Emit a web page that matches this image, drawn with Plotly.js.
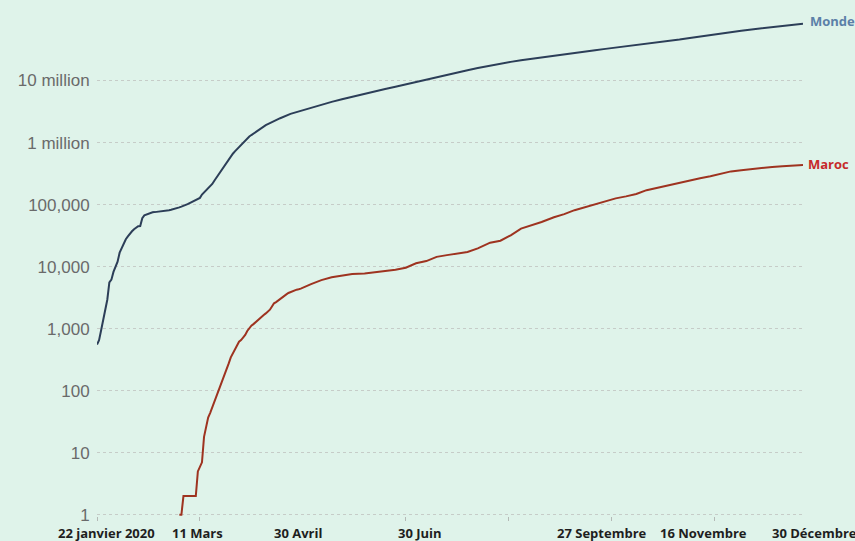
<!DOCTYPE html>
<html>
<head>
<meta charset="utf-8">
<script src="https://cdn.plot.ly/plotly-3.0.1.min.js"></script>
<style>
html,body{margin:0;padding:0;background:#dff3ea;}
#chart{width:855px;height:541px;}
</style>
</head>
<body>
<div id="chart"></div>
<script>
// Monde (cumulative cases)
const mondeDates = [
 "2020-01-22","2020-01-23","2020-01-24","2020-01-25","2020-01-26","2020-01-27","2020-01-28","2020-01-29","2020-01-30","2020-01-31",
 "2020-02-01","2020-02-02","2020-02-03","2020-02-04","2020-02-05","2020-02-06","2020-02-07","2020-02-08","2020-02-09","2020-02-10",
 "2020-02-11","2020-02-12","2020-02-13","2020-02-14","2020-02-15","2020-02-16","2020-02-17","2020-02-18","2020-02-19","2020-02-20",
 "2020-02-21","2020-02-22","2020-02-23","2020-02-24","2020-02-25","2020-02-26","2020-02-27","2020-02-28","2020-02-29","2020-03-01",
 "2020-03-02","2020-03-03","2020-03-04","2020-03-05","2020-03-06","2020-03-07","2020-03-08","2020-03-09","2020-03-10","2020-03-11",
 "2020-03-12","2020-03-13","2020-03-14","2020-03-15","2020-03-16","2020-03-17","2020-03-18","2020-03-19","2020-03-20","2020-03-21",
 "2020-03-22","2020-03-23","2020-03-24","2020-03-25","2020-03-26","2020-03-27","2020-03-28","2020-03-29","2020-03-30","2020-03-31",
 "2020-04-01","2020-04-02","2020-04-03","2020-04-04","2020-04-05","2020-04-06","2020-04-07","2020-04-08","2020-04-09","2020-04-10",
 "2020-04-11","2020-04-12","2020-04-13","2020-04-14","2020-04-15","2020-04-20","2020-04-25","2020-04-30","2020-05-05","2020-05-10",
 "2020-05-15","2020-05-20","2020-05-25","2020-05-31","2020-06-05","2020-06-10","2020-06-15","2020-06-20","2020-06-25","2020-06-30",
 "2020-07-05","2020-07-10","2020-07-15","2020-07-20","2020-07-25","2020-07-31","2020-08-05","2020-08-10","2020-08-15","2020-08-20",
 "2020-08-25","2020-08-31","2020-09-05","2020-09-10","2020-09-15","2020-09-20","2020-09-25","2020-09-30","2020-10-05","2020-10-10",
 "2020-10-15","2020-10-20","2020-10-25","2020-10-31","2020-11-05","2020-11-10","2020-11-15","2020-11-20","2020-11-25","2020-11-30",
 "2020-12-05","2020-12-10","2020-12-15","2020-12-20","2020-12-25","2020-12-30"
];
const mondeValues = [
 555,654,941,1434,2118,2927,5578,6166,8234,9927,
 12038,16787,19887,23898,27643,30802,34395,37129,40160,42769,
 44811,45229,60381,66909,69052,71235,73270,75152,75652,76212,
 76841,78602,78982,79546,80399,81376,82738,84124,86013,88371,
 90309,92844,95124,97886,101800,105836,109835,113582,118582,125865,
 128343,145193,156097,167449,181546,197168,214915,242713,272167,304528,
 336953,378235,418045,467653,529591,593291,660706,720117,782365,857487,
 932605,1013466,1095917,1176060,1249754,1321481,1396476,1479804,1565278,1657526,
 1735650,1834721,1904838,1976191,2056054,2470000,2900000,3260000,3660000,4100000,
 4530000,4990000,5490000,6170000,6700000,7290000,7960000,8710000,9540000,10450000,
 11410000,12500000,13600000,14700000,15900000,17500000,18700000,20000000,21300000,22500000,
 23800000,25300000,26700000,28000000,29500000,30900000,32400000,33900000,35400000,37100000,
 38900000,40800000,42900000,45800000,48500000,51400000,54400000,57600000,60500000,63300000,
 66500000,69800000,73000000,76700000,79600000,82600000
];

// Maroc (cumulative cases)
const marocDates = [
 "2020-03-02","2020-03-03","2020-03-04","2020-03-05","2020-03-06","2020-03-07","2020-03-08","2020-03-09","2020-03-10","2020-03-11",
 "2020-03-12","2020-03-13","2020-03-14","2020-03-15","2020-03-16","2020-03-17","2020-03-18","2020-03-19","2020-03-20","2020-03-21",
 "2020-03-22","2020-03-23","2020-03-24","2020-03-25","2020-03-26","2020-03-27","2020-03-28","2020-03-29","2020-03-30","2020-03-31",
 "2020-04-01","2020-04-02","2020-04-03","2020-04-04","2020-04-05","2020-04-06","2020-04-07","2020-04-08","2020-04-09","2020-04-10",
 "2020-04-11","2020-04-12","2020-04-13","2020-04-14","2020-04-15","2020-04-16","2020-04-17","2020-04-18","2020-04-19","2020-04-20",
 "2020-04-21","2020-04-22","2020-04-23","2020-04-24","2020-04-25","2020-04-26","2020-04-27","2020-04-28","2020-04-29","2020-04-30",
 "2020-05-05","2020-05-10","2020-05-15","2020-05-20","2020-05-25","2020-05-31","2020-06-05","2020-06-10","2020-06-15","2020-06-20",
 "2020-06-22","2020-06-25","2020-06-30","2020-07-05","2020-07-10","2020-07-15","2020-07-20","2020-07-25","2020-07-31","2020-08-05",
 "2020-08-10","2020-08-15","2020-08-20","2020-08-25","2020-08-31","2020-09-05","2020-09-10","2020-09-15","2020-09-20","2020-09-25",
 "2020-09-30","2020-10-05","2020-10-10","2020-10-15","2020-10-20","2020-10-25","2020-10-31","2020-11-05","2020-11-10","2020-11-15",
 "2020-11-20","2020-11-25","2020-11-30","2020-12-05","2020-12-10","2020-12-15","2020-12-20","2020-12-25","2020-12-30"
];
const marocValues = [
 1,1,2,2,2,2,2,2,2,5,
 6,7,18,28,37,44,54,63,79,96,
 115,143,170,225,275,345,402,479,556,617,
 654,708,791,919,1021,1120,1184,1275,1374,1448,
 1545,1661,1763,1888,2024,2283,2564,2685,2855,3046,
 3209,3446,3568,3758,3897,4065,4120,4252,4321,4423,
 5219,6063,6741,7133,7577,7780,8071,8537,8885,9613,
 10172,11338,12290,14379,15328,16262,17236,19645,24322,26196,
 32007,41017,46313,52349,62590,70160,81339,90324,100693,112522,
 126044,135619,148410,171000,187000,203000,226000,245000,266000,286000,
 315000,343000,359000,376000,391000,405000,416000,427000,436000
];

// Axis labels
const yTickVals = [1, 10, 100, 1000, 10000, 100000, 1000000, 10000000];
const yTickText = ["1", "10", "100", "1,000", "10,000", "100,000", "1 million", "10 million"];
const xTickVals = ["2020-01-22", "2020-03-11", "2020-04-30", "2020-06-30", "2020-09-27", "2020-11-16", "2020-12-30"];
const xTickText = ["22 janvier 2020", "11 Mars", "30 Avril", "30 Juin", "27 Septembre", "16 Novembre", "30 Décembre"];
const seriesNames = ["Monde", "Maroc"];

// label nudges (px) to match the original placement
const xLabelShift = [9, 0, -3, -6, -8, -9, 11];

const traces = [
  {x: mondeDates, y: mondeValues, name: seriesNames[0], type: "scatter", mode: "lines",
   line: {color: "#2c3e58", width: 2}, hoverinfo: "x+y"},
  {x: marocDates, y: marocValues, name: seriesNames[1], type: "scatter", mode: "lines",
   line: {color: "#9e3320", width: 2}, hoverinfo: "x+y"}
];

const annotations = xTickVals.map((d, i) => ({
  xref: "x", yref: "paper", x: d, y: 0, xanchor: "center", yanchor: "top",
  yshift: -6, xshift: xLabelShift[i], showarrow: false, cliponaxis: false,
  text: "<b>" + xTickText[i] + "</b>",
  font: {family: "Open Sans, sans-serif", size: 13, color: "#1e1e1e"}
}));
annotations.push(
  {xref: "paper", yref: "y", x: 1, y: Math.log10(mondeValues[mondeValues.length - 1]),
   xanchor: "left", yanchor: "middle", xshift: 5, yshift: 3, text: "<b>" + seriesNames[0] + "</b>", showarrow: false,
   font: {family: "Open Sans, sans-serif", size: 13, color: "#5b80a8"}},
  {xref: "paper", yref: "y", x: 1, y: Math.log10(marocValues[marocValues.length - 1]),
   xanchor: "left", yanchor: "middle", xshift: 3, yshift: 1, text: "<b>" + seriesNames[1] + "</b>", showarrow: false,
   font: {family: "Open Sans, sans-serif", size: 13, color: "#c62a2a"}}
);

const layout = {
  width: 855, height: 541,
  margin: {l: 97, r: 52, t: 3, b: 25},
  paper_bgcolor: "#dff3ea",
  plot_bgcolor: "#dff3ea",
  showlegend: false,
  xaxis: {
    type: "date",
    range: ["2020-01-22", "2020-12-30"],
    showticklabels: false,
    ticks: "", showgrid: false, zeroline: false, showline: false,
    minor: {tick0: "2020-01-22", dtick: 50 * 86400000, ticks: "outside", ticklen: 4,
            tickcolor: "#b4b9b6", tickwidth: 1, showgrid: false}
  },
  yaxis: {
    type: "log",
    range: [-0.02, 8.25],
    tickvals: yTickVals, ticktext: yTickText,
    ticks: "outside", ticklen: 3, tickcolor: "rgba(0,0,0,0)",
    showgrid: true, gridcolor: "#c6ccc8", griddash: "3px,3px", gridwidth: 1,
    zeroline: false, showline: false,
    tickfont: {family: "Liberation Sans, Arial, sans-serif", size: 17, color: "#6a6a6a"}
  },
  annotations: annotations
};

Plotly.newPlot("chart", traces, layout, {displayModeBar: false, staticPlot: true});
</script>
</body>
</html>
